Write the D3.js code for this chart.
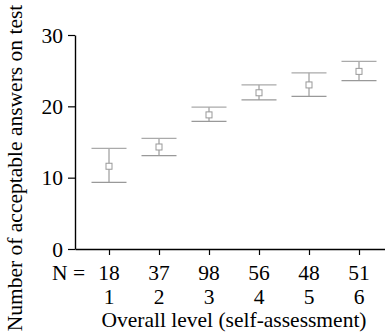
<!DOCTYPE html>
<html>
<head>
<meta charset="utf-8">
<script src="https://cdn.jsdelivr.net/npm/d3@7"></script>
<style>
  body { margin: 0; background: #fff; }
  text { font-family: "Liberation Serif", "DejaVu Serif", serif; fill: #000; }
</style>
</head>
<body>
<svg id="chart"></svg>
<script>
// data
const levels = [1, 2, 3, 4, 5, 6];
const counts = [18, 37, 98, 56, 48, 51];
const means  = [11.6, 14.3, 18.8, 21.9, 23.0, 24.9];
const upper  = [14.1, 15.5, 19.9, 23.0, 24.7, 26.3];
const lower  = [9.35, 13.1, 17.9, 20.9, 21.4, 23.6];
const yTicks = [0, 10, 20, 30];

const width = 385, height = 336;
const margin = {top: 35, right: 0, bottom: 87, left: 75};
const fs = 21.5;

const svg = d3.select('#chart')
    .attr('width', width)
    .attr('height', height);

const x = d3.scaleLinear()
    .domain([0.32, 6.7])
    .range([margin.left, margin.left + 6.38 * 50]);

const y = d3.scaleLinear()
    .domain([0, 30])
    .range([height - margin.bottom, margin.top]);

// y axis
const yAxis = d3.axisLeft(y)
    .tickValues(yTicks)
    .tickSize(7)
    .tickPadding(5)
    .tickSizeOuter(0);

const yg = svg.append('g')
    .attr('transform', `translate(${margin.left},0)`)
    .call(yAxis);
yg.select('.domain').attr('stroke', '#000').attr('stroke-width', 1.4);
yg.selectAll('.tick line').attr('stroke', '#000').attr('stroke-width', 1.2);
yg.selectAll('.tick text')
    .attr('font-size', fs)
    .attr('font-family', '"Liberation Serif", serif')
    .attr('fill', '#000')
    .attr('dy', '0.34em');

// x axis
const xAxis = d3.axisBottom(x)
    .tickValues(levels)
    .tickSize(6)
    .tickSizeOuter(0)
    .tickFormat('');

const xg = svg.append('g')
    .attr('transform', `translate(0,${y(0)})`)
    .call(xAxis);
xg.select('.domain').attr('stroke', '#000').attr('stroke-width', 1.4);
xg.selectAll('.tick line').attr('stroke', '#000').attr('stroke-width', 1.2);

// N row and level row
svg.append('text')
    .attr('x', 52)
    .attr('y', 280)
    .attr('font-size', fs)
    .text('N =');

svg.append('g').selectAll('text')
    .data(counts)
    .join('text')
    .attr('x', (d, i) => x(levels[i]))
    .attr('y', 280)
    .attr('text-anchor', 'middle')
    .attr('font-size', fs)
    .text(d => d);

svg.append('g').selectAll('text')
    .data(levels)
    .join('text')
    .attr('x', d => x(d))
    .attr('y', 303.5)
    .attr('text-anchor', 'middle')
    .attr('font-size', fs)
    .text(d => d);

svg.append('text')
    .attr('x', 234)
    .attr('y', 327)
    .attr('text-anchor', 'middle')
    .attr('font-size', fs)
    .text('Overall level (self-assessment)');

svg.append('text')
    .attr('transform', 'translate(22,168) rotate(-90)')
    .attr('text-anchor', 'middle')
    .attr('font-size', fs)
    .text('Number of acceptable answers on test');

// error bars
const bars = svg.append('g').selectAll('g')
    .data(levels)
    .join('g');

const capW = 17.5;

bars.append('line')
    .attr('x1', d => x(d)).attr('x2', d => x(d))
    .attr('y1', (d, i) => y(upper[i]))
    .attr('y2', (d, i) => y(lower[i]))
    .attr('stroke', '#888')
    .attr('stroke-width', 1);

bars.append('line')
    .attr('x1', d => x(d) - capW).attr('x2', d => x(d) + capW)
    .attr('y1', (d, i) => y(upper[i]))
    .attr('y2', (d, i) => y(upper[i]))
    .attr('stroke', '#aaa')
    .attr('stroke-width', 1.3);

bars.append('line')
    .attr('x1', d => x(d) - capW).attr('x2', d => x(d) + capW)
    .attr('y1', (d, i) => y(lower[i]))
    .attr('y2', (d, i) => y(lower[i]))
    .attr('stroke', '#999')
    .attr('stroke-width', 1.3);

bars.append('rect')
    .attr('x', d => x(d) - 3)
    .attr('y', (d, i) => y(means[i]) - 3)
    .attr('width', 6)
    .attr('height', 6)
    .attr('fill', '#fff')
    .attr('stroke', '#999')
    .attr('stroke-width', 1);
</script>
</body>
</html>
